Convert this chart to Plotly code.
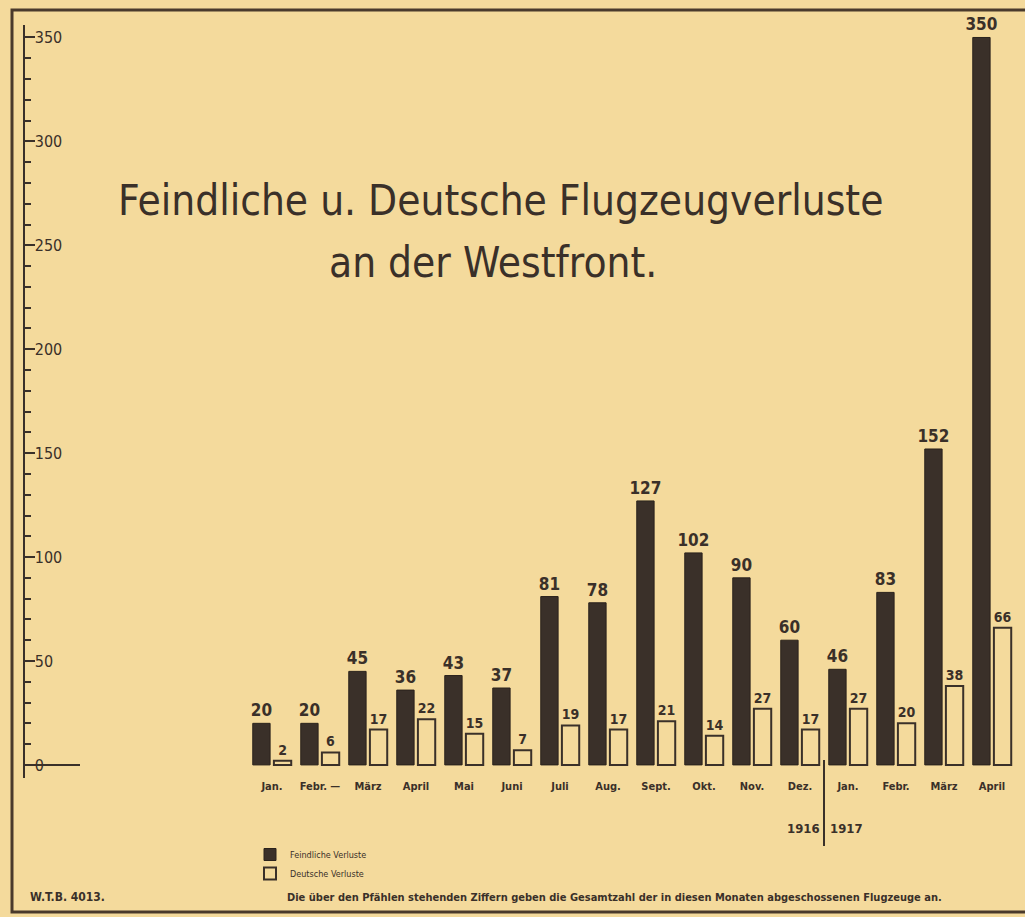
import plotly.graph_objects as go

# ---- data ----
months = ["Jan.", "Febr.", "März", "April", "Mai", "Juni", "Juli", "Aug.",
          "Sept.", "Okt.", "Nov.", "Dez.", "Jan. ", "Febr. ", "März ", "April "]
tick_labels = ["Jan.", "Febr. —", "März", "April", "Mai", "Juni", "Juli", "Aug.",
               "Sept.", "Okt.", "Nov.", "Dez.", "Jan.", "Febr.", "März", "April"]
feindliche = [20, 20, 45, 36, 43, 37, 81, 78, 127, 102, 90, 60, 46, 83, 152, 350]
deutsche = [2, 6, 17, 22, 15, 7, 19, 17, 21, 14, 27, 17, 27, 20, 38, 66]
y_ticks = [0, 50, 100, 150, 200, 250, 300, 350]

PAPER = "#f4da9c"
INK = "#3a3029"
FONT = "DejaVu Sans Condensed, Liberation Sans Narrow, Arial Narrow, DejaVu Sans, sans-serif"

W, H = 1025, 917
STEP = 48.0
C0 = 272.0
L, R, T, B = 25, int(C0 + 15.5 * STEP), 25, 778
Y_MIN, Y_MAX = -6.3, 356


def px(x):
    return (x - L) / (R - L)


def py(y):
    return (B - y) / (B - T)


fig = go.Figure()
fig.add_trace(go.Bar(
    x=months, y=feindliche, name="Feindliche Verluste",
    marker=dict(color=INK, line=dict(color="#2a221c", width=1)),
    text=[str(v) for v in feindliche], texttemplate="<b>%{text}</b>",
    textposition="outside", constraintext="none",
    textfont=dict(family=FONT, size=17, color=INK),
    cliponaxis=False,
))
fig.add_trace(go.Bar(
    x=months, y=deutsche, name="Deutsche Verluste",
    marker=dict(color=PAPER, line=dict(color=INK, width=2)),
    text=[str(v) for v in deutsche], texttemplate="<b>%{text}</b>",
    textposition="outside", constraintext="none",
    textfont=dict(family=FONT, size=14, color=INK),
    cliponaxis=False,
))


def note(text, x, y, size, xref="paper", xanchor="center", xshift=0):
    return dict(text=text, x=x, y=py(y), xref=xref, yref="paper", showarrow=False,
                xanchor=xanchor, yanchor="middle", xshift=xshift,
                font=dict(family=FONT, size=size, color=INK))


ann = [
    note("Feindliche u. Deutsche Flugzeugverluste", px(500), 200, 42),
    note("an der Westfront.", px(493), 262, 42),
    note("<b>1916</b>", 11.5, 828, 13, xref="x", xanchor="right", xshift=-2),
    note("<b>1917</b>", 11.5, 828, 13, xref="x", xanchor="left", xshift=4),
    note("<b>W.T.B. 4013.</b>", px(28), 897, 12, xanchor="left"),
    note("<b>Die über den Pfählen stehenden Ziffern geben die Gesamtzahl der in diesen Monaten abgeschossenen Flugzeuge an.</b>",
         px(285), 897, 11, xanchor="left"),
]

shapes = [
    # outer frame
    dict(type="rect", xref="paper", yref="paper", x0=px(12), x1=px(1030), y0=py(912), y1=py(10),
         line=dict(color="#4a3a2c", width=3)),
    # year separator
    dict(type="line", xref="x", yref="paper", x0=11.5, x1=11.5, y0=py(760), y1=py(846),
         line=dict(color=INK, width=2)),
    # short baseline at 0
    dict(type="line", xref="paper", yref="y", x0=0, x1=px(80), y0=0, y1=0,
         line=dict(color=INK, width=2)),
]

fig.update_layout(
    width=W, height=H,
    margin=dict(l=L, r=W - R, t=T, b=H - B, autoexpand=False),
    paper_bgcolor=PAPER, plot_bgcolor=PAPER,
    barmode="group", bargap=0.12, bargroupgap=0.18,
    font=dict(family=FONT, color=INK),
    showlegend=True,
    legend=dict(x=px(250), y=py(840), xanchor="left", yanchor="top",
                bgcolor="rgba(0,0,0,0)", font=dict(family=FONT, size=9, color=INK),
                itemwidth=30, tracegroupgap=0, borderwidth=0),
    annotations=ann, shapes=shapes,
)
fig.update_xaxes(
    type="category", categoryorder="array", categoryarray=months,
    range=[-0.5 - (C0 - STEP / 2 - L) / STEP, 15.5],
    tickvals=months, ticktext=["<b>%s</b>" % t for t in tick_labels],
    tickfont=dict(family=FONT, size=11, color=INK),
    ticklabelstandoff=0,
    showgrid=False, zeroline=False, showline=False, ticks="",
)
fig.update_yaxes(
    range=[Y_MIN, Y_MAX], tickvals=y_ticks,
    ticks="inside", ticklen=10, tickwidth=2, tickcolor=INK,
    ticklabelposition="inside",
    minor=dict(tick0=0, dtick=10, ticks="inside", ticklen=6, tickwidth=2, tickcolor=INK),
    showline=True, linecolor=INK, linewidth=2,
    showgrid=False, zeroline=False,
    tickfont=dict(family=FONT, size=16, color=INK),
)

fig.write_html("out.html", config={"displayModeBar": False},
               post_script="document.body.style.margin='0px';document.body.style.overflow='hidden';")
